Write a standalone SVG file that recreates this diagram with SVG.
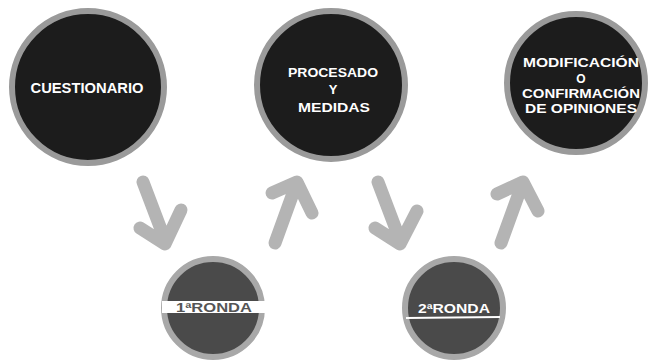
<svg xmlns="http://www.w3.org/2000/svg" width="654" height="361" viewBox="0 0 654 361">
<style>
.big{fill:#1c1c1c;stroke:#9a9a9a;stroke-width:6}
.small{fill:#4a4a4a;stroke:#a8a8a8;stroke-width:6}
.t{font-family:"Liberation Sans","Open Sans",sans-serif;font-weight:bold;fill:#ffffff;text-anchor:middle}
.arrow{fill:none;stroke:#b4b4b4;stroke-width:13;stroke-linecap:round;stroke-linejoin:round}
</style>
<rect width="654" height="361" fill="#ffffff"/>
<g id="connectors">
<path class="arrow" d="M143,182 L165,240 M140,228 L165,244 L181,210"/>
<path class="arrow" d="M275,243 L296,185 M272,193 L297,182 L312,213"/>
<path class="arrow" d="M378,182 L400,240 M375,228 L400,244 L417,211"/>
<path class="arrow" d="M501,243 L522,185 M497,194 L523,182 L538,211"/>
</g>
<g id="n1">
<circle class="big" cx="88" cy="87" r="76"/>
<text class="t" x="87" y="93" font-size="14" textLength="113" lengthAdjust="spacingAndGlyphs">CUESTIONARIO</text>
</g>
<g id="n2">
<circle class="big" cx="331" cy="85" r="74"/>
<text class="t" x="333" y="77" font-size="13" textLength="90" lengthAdjust="spacingAndGlyphs">PROCESADO</text>
<text class="t" x="333" y="94" font-size="13">Y</text>
<text class="t" x="334" y="112" font-size="13" textLength="72" lengthAdjust="spacingAndGlyphs">MEDIDAS</text>
</g>
<g id="n3">
<circle class="big" cx="576" cy="83" r="69"/>
<text class="t" x="581" y="67" font-size="12" textLength="116" lengthAdjust="spacingAndGlyphs">MODIFICACIÓN</text>
<text class="t" x="581" y="83" font-size="12">O</text>
<text class="t" x="581" y="98" font-size="12" textLength="118" lengthAdjust="spacingAndGlyphs">CONFIRMACIÓN</text>
<text class="t" x="581" y="113" font-size="12" textLength="112" lengthAdjust="spacingAndGlyphs">DE OPINIONES</text>
</g>
<g id="n4">
<circle class="small" cx="213" cy="308" r="49"/>
<rect x="162" y="301" width="103" height="12" fill="#ffffff"/>
<text class="t" x="214" y="312" font-size="12" style="fill:#555555" textLength="76" lengthAdjust="spacingAndGlyphs">1ªRONDA</text>
</g>
<g id="n5">
<circle class="small" cx="454" cy="308" r="49"/>
<text class="t" x="454" y="313" font-size="13" textLength="72" lengthAdjust="spacingAndGlyphs">2ªRONDA</text>
<line x1="406" y1="318" x2="500" y2="317" stroke="#ffffff" stroke-width="2"/>
</g>
</svg>
